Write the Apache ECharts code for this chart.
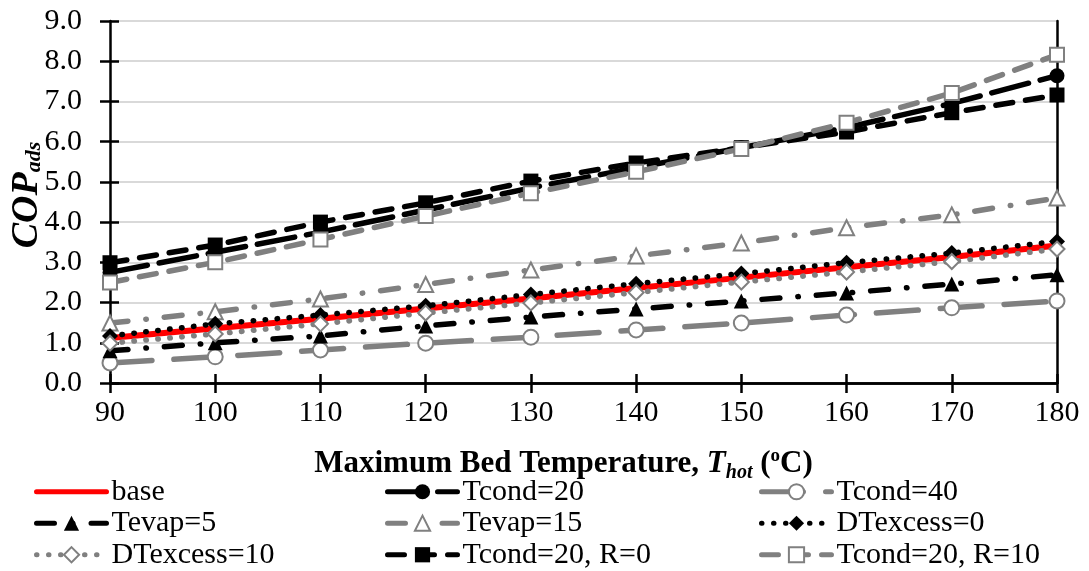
<!DOCTYPE html>
<html>
<head>
<meta charset="utf-8">
<script src="https://cdn.jsdelivr.net/npm/echarts@6/dist/echarts.min.js"></script>
<style>
  html, body { margin: 0; padding: 0; background: #ffffff; }
  #chart { width: 1089px; height: 571px; }
</style>
</head>
<body>
<div id="chart"></div>
<script>
// Maximum bed temperature (°C)
const temps = [90, 100, 110, 120, 130, 140, 150, 160, 170, 180];

// COP_ads for each case
const base    = [1.12, 1.36, 1.60, 1.85, 2.10, 2.36, 2.62, 2.88, 3.13, 3.42];
const tcond20 = [2.75, 3.25, 3.75, 4.30, 4.85, 5.35, 5.85, 6.35, 6.95, 7.64];
const tcond40 = [0.50, 0.65, 0.82, 0.99, 1.14, 1.32, 1.49, 1.69, 1.87, 2.04];
const tevap5  = [0.80, 1.00, 1.17, 1.42, 1.64, 1.84, 2.04, 2.24, 2.46, 2.69];
const tevap15 = [1.49, 1.77, 2.09, 2.45, 2.81, 3.16, 3.48, 3.86, 4.18, 4.60];
const dtex0   = [1.17, 1.47, 1.69, 1.92, 2.20, 2.47, 2.72, 2.99, 3.23, 3.52];
const dtex10  = [0.99, 1.22, 1.47, 1.74, 1.99, 2.25, 2.51, 2.76, 3.02, 3.33];
const r0      = [2.99, 3.43, 4.00, 4.48, 5.02, 5.47, 5.85, 6.24, 6.72, 7.16];
const r10     = [2.50, 3.00, 3.57, 4.15, 4.72, 5.25, 5.82, 6.47, 7.21, 8.16];

const FONT = '"Liberation Serif", "Times New Roman", serif';
const GRAY = '#808080';
const AXIS_W = 2.5;

const pairs = vals => temps.map((t, i) => [t, vals[i]]);

function lineSeries(name, vals, color, width, dash, symbol, size, fill, border) {
  return {
    name, type: 'line', data: pairs(vals),
    symbol, symbolSize: size,
    lineStyle: { color, width, type: dash, cap: 'round' },
    itemStyle: { color: fill, borderColor: border || fill, borderWidth: border ? 2 : 0 },
    xAxisIndex: 0, yAxisIndex: 0,
    z: 2
  };
}

// round-capped dash patterns: [dash, gap, ...]
const LONG_DASH = [38, 12];
const LONG_DASH_GRAY = [42, 22];
const DASH_DOT = [18, 18, 0.5, 18];
const ROUND_DOT = [0.5, 11.5];
const DASH = [17, 13];

const series = [
  lineSeries('base', base, '#ff0000', 6, 'solid', 'none', 0, '#ff0000'),
  lineSeries('Tcond=20', tcond20, '#000000', 5.5, LONG_DASH, 'circle', 15, '#000000'),
  lineSeries('Tcond=40', tcond40, GRAY, 5.5, LONG_DASH_GRAY, 'circle', 15, '#ffffff', GRAY),
  lineSeries('Tevap=5', tevap5, '#000000', 5.5, DASH_DOT, 'triangle', 15, '#000000'),
  lineSeries('Tevap=15', tevap15, GRAY, 5.5, DASH_DOT, 'triangle', 15, '#ffffff', GRAY),
  lineSeries('DTexcess=0', dtex0, '#000000', 5.5, ROUND_DOT, 'diamond', 16, '#000000'),
  lineSeries('DTexcess=10', dtex10, GRAY, 5.5, ROUND_DOT, 'diamond', 15, '#ffffff', GRAY),
  lineSeries('Tcond=20, R=0', r0, '#000000', 5.5, DASH, 'rect', 15, '#000000'),
  lineSeries('Tcond=20, R=10', r10, GRAY, 5.5, DASH, 'rect', 14, '#ffffff', GRAY)
];

const legendCommon = {
  orient: 'vertical', top: 476, height: 120, padding: 0,
  itemWidth: 70, itemHeight: 19, itemGap: 0,
  lineStyle: { width: 5 },
  textStyle: { fontFamily: FONT, fontSize: 30, color: '#000', lineHeight: 31.5 },
  selectedMode: false
};

// plain frame axes (top and right edges of the plot)
const frameX = {
  type: 'value', min: 90, max: 180, interval: 10, position: 'top',
  axisLine: { show: true, lineStyle: { color: '#000', width: AXIS_W } },
  axisTick: { show: false }, axisLabel: { show: false }, splitLine: { show: false }
};
const frameY = {
  type: 'value', min: 0, max: 9, interval: 1, position: 'right',
  axisLine: { show: true, lineStyle: { color: '#000', width: AXIS_W } },
  axisTick: { show: false }, axisLabel: { show: false }, splitLine: { show: false }
};

const chart = echarts.init(document.getElementById('chart'), null, { renderer: 'canvas' });
chart.setOption({
  animation: false,
  backgroundColor: '#ffffff',
  grid: { left: 110, right: 32, top: 21, bottom: 188, outerBoundsMode: 'none', containLabel: false },
  legend: [
    Object.assign({ left: 34, data: [{ name: 'base', itemStyle: { opacity: 0 } }, 'Tevap=5', 'DTexcess=10'] }, legendCommon),
    Object.assign({ left: 385, data: ['Tcond=20', 'Tevap=15', 'Tcond=20, R=0'] }, legendCommon),
    Object.assign({ left: 759, data: ['Tcond=40', 'DTexcess=0', 'Tcond=20, R=10'] }, legendCommon)
  ],
  xAxis: [
    {
      type: 'value', min: 90, max: 180, interval: 10, position: 'bottom',
      axisLine: { lineStyle: { color: '#000', width: AXIS_W } },
      axisTick: { length: 10, lineStyle: { color: '#000', width: AXIS_W } },
      axisLabel: { fontFamily: FONT, fontSize: 30, color: '#000', margin: 15 },
      splitLine: { show: false },
      name: '{b|Maximum Bed Temperature, }{bi|T}{sub|hot}{b| (}{sup|o}{b|C)}',
      nameLocation: 'middle', nameGap: 62, nameMoveOverlap: false,
      nameTextStyle: {
        padding: [0, 40, 0, 0],
        rich: {
          b: { fontFamily: FONT, fontSize: 31, fontWeight: 'bold', color: '#000' },
          bi: { fontFamily: FONT, fontSize: 31, fontWeight: 'bold', fontStyle: 'italic', color: '#000' },
          sub: { fontFamily: FONT, fontSize: 20, fontWeight: 'bold', fontStyle: 'italic', color: '#000', padding: [18, 0, 0, 0] },
          sup: { fontFamily: FONT, fontSize: 19, fontWeight: 'bold', color: '#000', padding: [0, 0, 16, 0] }
        }
      }
    },
    {
      type: 'value', min: 90, max: 180, interval: 10, position: 'bottom',
      axisLine: { show: false },
      axisTick: { inside: true, length: 9, lineStyle: { color: '#000', width: AXIS_W } },
      axisLabel: { show: false }, splitLine: { show: false }
    },
    frameX
  ],
  yAxis: [
    {
      type: 'value', min: 0, max: 9, interval: 1, position: 'left',
      axisLine: { show: true, lineStyle: { color: '#000', width: AXIS_W } },
      axisTick: { show: true, length: 10, lineStyle: { color: '#000', width: AXIS_W } },
      axisLabel: { fontFamily: FONT, fontSize: 30, color: '#000', margin: 28, formatter: v => v.toFixed(1) },
      splitLine: { show: true, lineStyle: { color: '#d9d9d9', width: 2 } },
      name: '{m|COP}{s|ads}',
      nameLocation: 'middle', nameRotate: 90, nameGap: 64, nameMoveOverlap: false,
      nameTextStyle: {
        padding: [0, 0, 0, 14],
        rich: {
          m: { fontFamily: FONT, fontSize: 38, fontWeight: 'bold', fontStyle: 'italic', color: '#000' },
          s: { fontFamily: FONT, fontSize: 22, fontWeight: 'bold', fontStyle: 'italic', color: '#000', padding: [14, 0, 0, 0] }
        }
      }
    },
    {
      type: 'value', min: 0, max: 9, interval: 1, position: 'left',
      axisLine: { show: false },
      axisTick: { show: true, inside: true, length: 9, lineStyle: { color: '#000', width: AXIS_W } },
      axisLabel: { show: false }, splitLine: { show: false }
    },
    frameY
  ],
  series
});
</script>
</body>
</html>
